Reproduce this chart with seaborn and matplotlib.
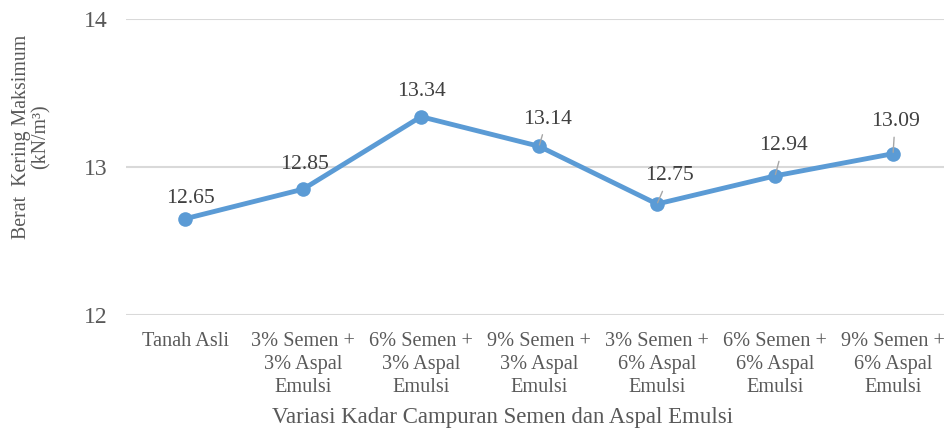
import pandas as pd
import matplotlib.pyplot as plt
import seaborn as sns

# data
categories = [
    "Tanah Asli",
    "3% Semen +\n3% Aspal\nEmulsi",
    "6% Semen +\n3% Aspal\nEmulsi",
    "9% Semen +\n3% Aspal\nEmulsi",
    "3% Semen +\n6% Aspal\nEmulsi",
    "6% Semen +\n6% Aspal\nEmulsi",
    "9% Semen +\n6% Aspal\nEmulsi",
]
berat_kering = [12.65, 12.85, 13.34, 13.14, 12.75, 12.94, 13.09]
y_ticks = [12, 13, 14]

# label placement (pixel offsets above the point) and leader-line flags
label_offsets = [(5, 20), (1, 25), (0, 25), (8, 27), (12, 28), (8, 30), (2, 32)]
has_leader = [False, False, False, True, True, True, True]

LINE_BLUE = "#5B9BD5"
TEXT_GREY = "#404040"
TICK_GREY = "#595959"


def main():
    sns.set_theme(style="white")
    plt.rcParams["font.family"] = ["Liberation Serif", "DejaVu Serif"]

    df = pd.DataFrame({"pos": range(len(categories)), "value": berat_kering})

    fig = plt.figure(figsize=(9.45, 4.32), dpi=100)
    ax = fig.add_axes([126 / 945, 1 - 315 / 432, 1 - 126 / 945, (315 - 19) / 432])

    sns.lineplot(data=df, x="pos", y="value", ax=ax, color=LINE_BLUE,
                 linewidth=3.5, marker="o", markersize=10.5,
                 markeredgewidth=0, zorder=3)

    # data labels; leader lines sit on top of the markers like in the original
    for i, (v, off, lead) in enumerate(zip(berat_kering, label_offsets, has_leader)):
        props = None
        if lead:
            props = dict(arrowstyle="-", color="#A6A6A6", lw=1.0,
                         shrinkA=2, shrinkB=1)
        ax.annotate(f"{v:.2f}", xy=(i, v), xytext=(off[0], off[1]),
                    textcoords="offset pixels", ha="center", va="center",
                    fontsize=15.6, color=TEXT_GREY, arrowprops=props, zorder=4)

    ax.set_xlim(-0.5, 6.44)
    ax.set_ylim(12, 14)
    ax.set_yticks(y_ticks)
    ax.set_yticklabels([str(t) for t in y_ticks], fontsize=17, color=TICK_GREY)
    ax.set_xticks(range(len(categories)))
    ax.set_xticklabels(categories, fontsize=14.6, color=TICK_GREY, linespacing=1.3)
    ax.tick_params(axis="y", length=0, pad=13)
    ax.tick_params(axis="x", length=0, pad=12)

    ax.grid(axis="y", color="#D9D9D9", linewidth=1.5)
    ax.grid(axis="x", visible=False)
    ax.set_axisbelow(True)
    for s in ax.spines.values():
        s.set_visible(False)

    ax.set_xlabel("")
    ax.set_ylabel("")
    fig.text(502 / 945, 1 - 418 / 432, "Variasi Kadar Campuran Semen dan Aspal Emulsi",
             ha="center", va="center", fontsize=16.5, color=TICK_GREY)
    fig.text(31 / 945, 1 - 137 / 432, "Berat  Kering Maksimum\n(kN/m\u00b3)",
             rotation=90, ha="center", va="center", fontsize=14.3,
             color=TICK_GREY, linespacing=1.05, multialignment="center")

    fig.savefig("out.png", dpi=100)
    plt.close(fig)


if __name__ == "__main__":
    main()
